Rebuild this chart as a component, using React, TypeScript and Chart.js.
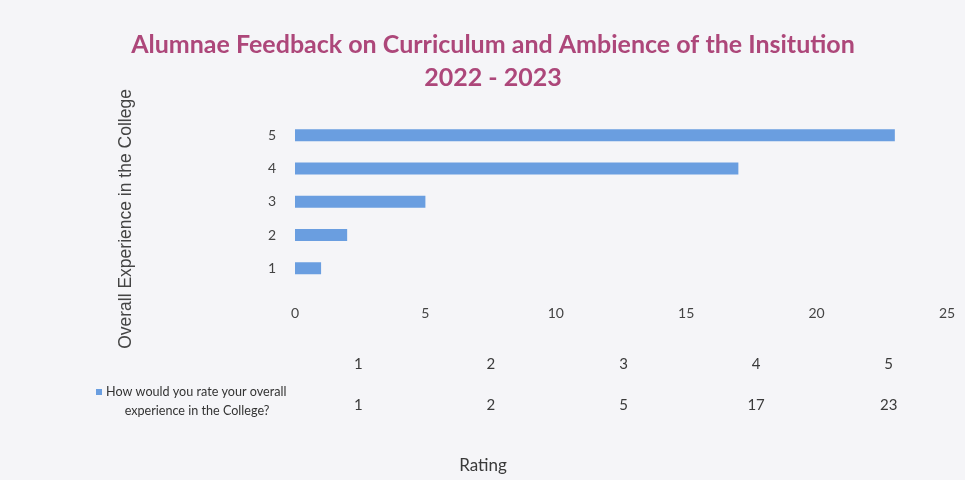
import React, { useEffect, useRef } from "react";
import { Chart, registerables } from "chart.js";

Chart.register(...registerables);

const titleLines = ["Alumnae Feedback on Curriculum and Ambience of the Insitution", "2022 - 2023"];
const categories = ["1", "2", "3", "4", "5"];
const seriesName = "How would you rate your overall experience in the College?";
const legendLines = ["How would you rate your overall", "experience in the College?"];
const values = [1, 2, 5, 17, 23];
const xTicks = [0, 5, 10, 15, 20, 25];
const yTitle = "Overall Experience in the College";
const xTitle = "Rating";

const BAR = "#6a9ee0";
const TEXT = "#3a3a3a";

const tablePlugin = {
  id: "dataTable",
  beforeDraw(chart: any) {
    const { ctx, width, height } = chart;
    ctx.save();
    ctx.fillStyle = "#f5f5f8";
    ctx.fillRect(0, 0, width, height);
    ctx.restore();
  },
  afterDraw(chart: any) {
    const { ctx, chartArea } = chart;
    ctx.save();
    // y-axis title
    ctx.fillStyle = "#444";
    ctx.font = "17.5px 'Liberation Sans', Arial, sans-serif";
    ctx.textAlign = "center";
    ctx.textBaseline = "middle";
    ctx.save();
    ctx.translate(126, 219);
    ctx.rotate(-Math.PI / 2);
    ctx.fillText(yTitle, 0, 0);
    ctx.restore();

    // data table
    const left = chartArea.left - 3;
    const right = chart.width - 10;
    const colW = (right - left) / categories.length;
    const rowHeader = chartArea.bottom + 79;
    const rowValues = chartArea.bottom + 120;
    ctx.fillStyle = TEXT;
    ctx.font = "15px Lato, 'Open Sans', sans-serif";
    categories.forEach((c, i) => {
      const cx = left + colW * (i + 0.5);
      ctx.fillText(c, cx, rowHeader);
      ctx.fillText(String(values[i]), cx, rowValues);
    });

    // legend key and series name
    ctx.fillStyle = "#333";
    ctx.font = "12.6px Lato, 'Open Sans', sans-serif";
    ctx.textAlign = "left";
    ctx.fillText(legendLines[0], 106, rowValues - 13);
    ctx.textAlign = "center";
    ctx.fillText(legendLines[1], 197, rowValues + 6);
    ctx.fillStyle = BAR;
    ctx.fillRect(96, rowValues - 16, 6, 6);

    // bottom title
    ctx.fillStyle = TEXT;
    ctx.font = "17px Lato, 'Open Sans', sans-serif";
    ctx.fillText(xTitle, 483, 466);
    ctx.restore();
  },
};

export default function App() {
  const ref = useRef<HTMLCanvasElement | null>(null);
  useEffect(() => {
    if (!ref.current) return;
    const chart = new Chart(ref.current, {
      type: "bar",
      data: {
        labels: categories,
        datasets: [
          {
            label: seriesName,
            data: values,
            backgroundColor: BAR,
            categoryPercentage: 1,
            barPercentage: 0.36,
          },
        ],
      },
      options: {
        indexAxis: "y",
        responsive: false,
        animation: false,
        layout: { padding: { left: 39, right: 18, top: 0, bottom: 155 } },
        plugins: {
          legend: { display: false },
          tooltip: { enabled: false },
          title: {
            display: true,
            text: titleLines,
            color: "#ad477a",
            font: { family: "Lato, 'Open Sans', sans-serif", size: 25, weight: "bold", lineHeight: 1.32 },
            padding: { top: 28.5, bottom: 24 },
          },
        },
        scales: {
          x: {
            min: 0,
            max: 25,
            afterBuildTicks: (scale: any) => {
              scale.ticks = xTicks.map((v) => ({ value: v }));
            },
            ticks: {
              color: "#444",
              padding: 20,
              font: { family: "Lato, 'Open Sans', sans-serif", size: 14 },
            },
            grid: { display: false, drawTicks: false },
            border: { display: false },
            afterFit: (scale: any) => {
              scale.height = 40;
              scale.paddingLeft = 0;
              scale.paddingRight = 0;
            },
          },
          y: {
            reverse: true,
            ticks: {
              color: "#444",
              padding: 19,
              font: { family: "Lato, 'Open Sans', sans-serif", size: 14 },
            },
            grid: { display: false, drawTicks: false },
            border: { display: false },
            afterFit: (scale: any) => {
              scale.width = 256;
            },
          },
        },
      },
      plugins: [tablePlugin],
    });
    return () => chart.destroy();
  }, []);
  return (
    <div style={{ position: "fixed", left: 0, top: 0, width: 965, height: 480 }}>
      <canvas ref={ref} width={965} height={480} />
    </div>
  );
}
